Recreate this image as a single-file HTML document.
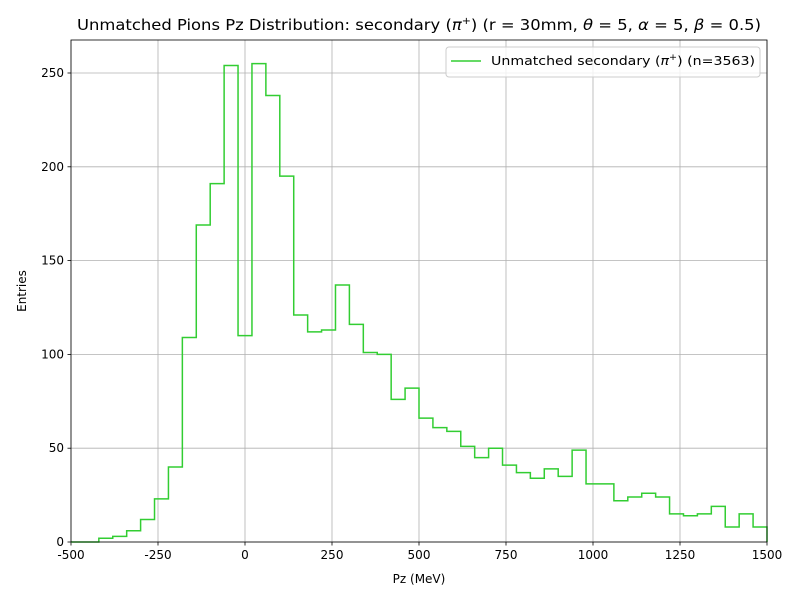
<!DOCTYPE html>
<html><head><meta charset="utf-8"><style>
body{margin:0;background:#fff;font-family:"Liberation Sans","DejaVu Sans",sans-serif}
svg text{font-family:"DejaVu Sans","Liberation Sans",sans-serif}
</style></head><body>
<svg id="chart" width="800" height="600" viewBox="0 0 800 600" xmlns="http://www.w3.org/2000/svg">
<rect width="800" height="600" fill="#fff"/>
<g id="grid"></g>
<g id="axes"></g>
<path id="hist" fill="none" stroke="#32cd32" stroke-width="1.5"/>
<rect x="71" y="40" width="696" height="502" fill="none" stroke="#000" stroke-width="0.8"/>
<text x="77" y="30" font-size="15" textLength="684" lengthAdjust="spacingAndGlyphs">Unmatched Pions Pz Distribution: secondary (<tspan font-style="italic">π</tspan><tspan dy="-6" font-size="10">+</tspan><tspan dy="6">) (r = 30mm, </tspan><tspan font-style="italic">θ</tspan> = 5, <tspan font-style="italic">α</tspan> = 5, <tspan font-style="italic">β</tspan> = 0.5)</text>
<text x="419" y="583" text-anchor="middle" font-size="12">Pz (MeV)</text>
<text transform="translate(26,291) rotate(-90)" text-anchor="middle" font-size="12">Entries</text>
<g>
<rect x="446" y="47" width="314" height="30" rx="3" fill="#fff" fill-opacity="0.8" stroke="#ccc"/>
<line x1="451" y1="61" x2="481" y2="61" stroke="#32cd32" stroke-width="1.5"/>
<text x="491" y="65" font-size="12.5" textLength="264" lengthAdjust="spacingAndGlyphs">Unmatched secondary (<tspan font-style="italic">π</tspan><tspan dy="-5" font-size="8.5">+</tspan><tspan dy="5">) (n=3563)</tspan></text>
</g>
</svg>
<script>
const binEdgesStart = -500;
const binWidth = 40;
const counts = [0,0,2,3,6,12,23,40,109,169,191,254,110,255,238,195,121,112,113,137,116,101,100,76,82,66,61,59,51,45,50,41,37,34,39,35,49,31,31,22,24,26,24,15,14,15,19,8,15,8];
const xTicks = [-500,-250,0,250,500,750,1000,1250,1500];
const yTicks = [0,50,100,150,200,250];
const X0=71,X1=767,Y0=542,Y1=40, xmin=-500,xmax=1500, ymax=(542-40)/1.876;
const sx=v=>X0+(v-xmin)/(xmax-xmin)*(X1-X0);
const sy=v=>Y0-v/ymax*(Y0-Y1);
const ns="http://www.w3.org/2000/svg";
const grid=document.getElementById('grid'), axes=document.getElementById('axes');
function mk(t,a,p){const e=document.createElementNS(ns,t);for(const k in a)e.setAttribute(k,a[k]);p.appendChild(e);return e;}
xTicks.forEach(v=>{const x=sx(v);
 const g=mk('line',{x1:x,x2:x,y1:Y1,y2:Y0,stroke:'#b0b0b0','stroke-width':0.8},grid);
 
 
 const t=mk('line',{x1:x,x2:x,y1:Y0,y2:Y0+3.5,stroke:'#000','stroke-width':0.8},axes);
 
 
 const l=mk('text',{x:x,y:Y0+17,'text-anchor':'middle','font-size':12},axes);l.textContent=v;
 
 
});
yTicks.forEach(v=>{const y=sy(v);
 const g=mk('line',{x1:X0,x2:X1,y1:y,y2:y,stroke:'#b0b0b0','stroke-width':0.8},grid);
 
 
 const t=mk('line',{x1:X0-3.5,x2:X0,y1:y,y2:y,stroke:'#000','stroke-width':0.8},axes);
 
 
 const l=mk('text',{x:X0-7,y:y+4,'text-anchor':'end','font-size':12},axes);l.textContent=v;
 
 
});
let d='M'+sx(binEdgesStart)+','+sy(0);
counts.forEach((c,i)=>{const a=binEdgesStart+i*binWidth,b=a+binWidth;
 d+=' L'+sx(a)+','+sy(c)+' L'+sx(b)+','+sy(c);});
d+=' L'+sx(binEdgesStart+counts.length*binWidth)+','+sy(0);
document.getElementById('hist').setAttribute('d',d);
</script>
</body></html>
